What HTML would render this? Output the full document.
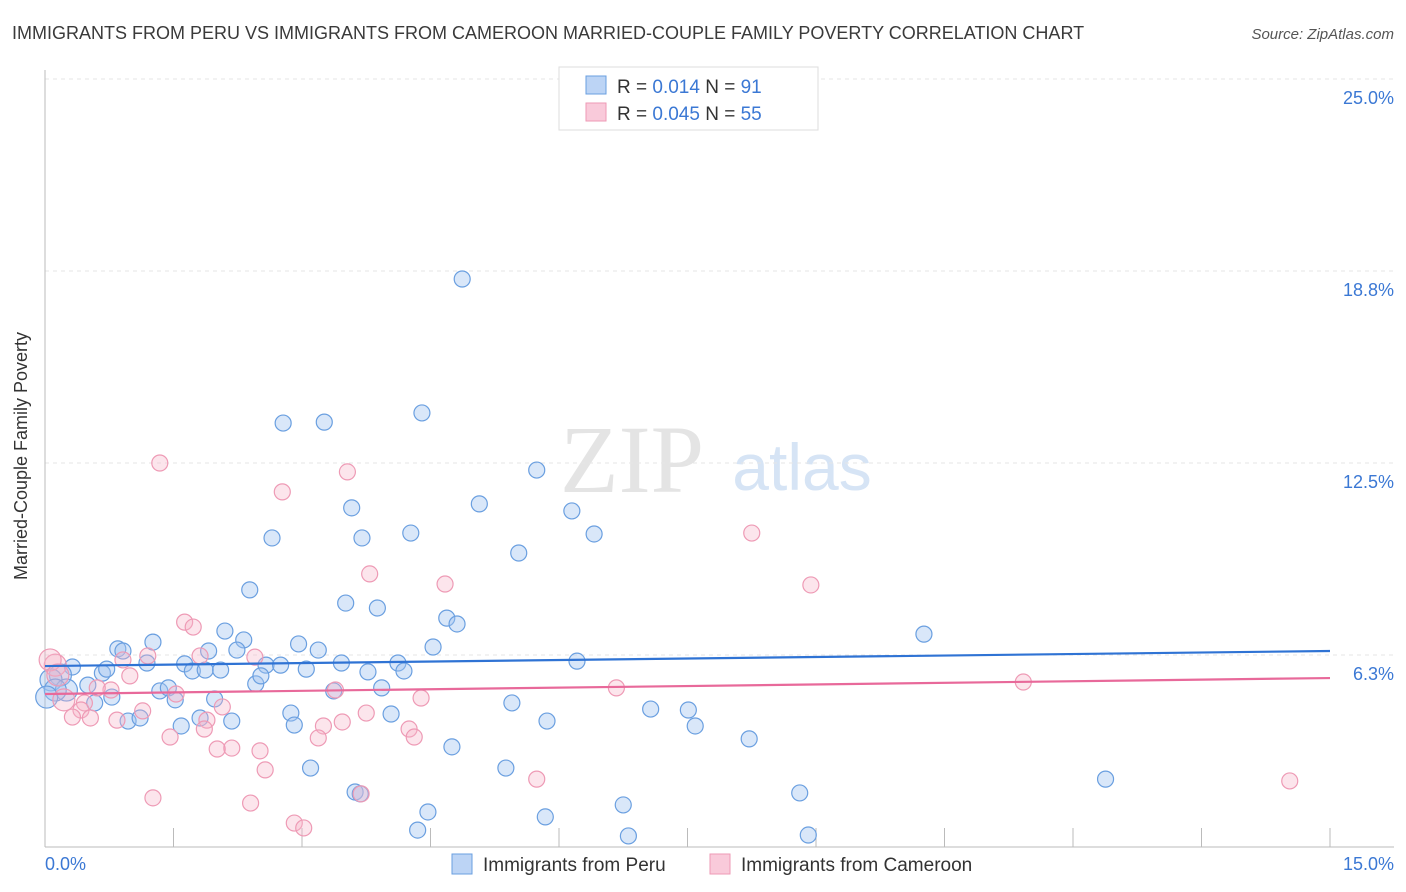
<!DOCTYPE html>
<html><head><meta charset="utf-8">
<style>
body{margin:0;background:#fff;font-family:"Liberation Sans",sans-serif;}
#wrap{position:relative;width:1406px;height:892px;overflow:hidden;}
</style></head>
<body>
<div id="wrap">
<svg id="svg" width="1406" height="892" xmlns="http://www.w3.org/2000/svg">
<text x="12" y="39" font-size="18" fill="#3a3a3a">IMMIGRANTS FROM PERU VS IMMIGRANTS FROM CAMEROON MARRIED-COUPLE FAMILY POVERTY CORRELATION CHART</text>
<text x="1394" y="39" font-size="15" fill="#555" text-anchor="end" font-style="italic">Source: ZipAtlas.com</text>
<text x="632" y="492" font-size="96" fill="#e4e4e4" font-family="Liberation Serif,serif" text-anchor="middle">ZIP</text>
<text x="802" y="490" font-size="66" fill="#d6e4f5" text-anchor="middle">atlas</text>
<g id="grid"></g><g id="pts"></g><g id="trend"></g>
<text x="27" y="456" font-size="18" fill="#333" text-anchor="middle" transform="rotate(-90 27 456)">Married-Couple Family Poverty</text>
<text x="45" y="870" font-size="18" fill="#3b78d4">0.0%</text>
<text x="1394" y="870" font-size="18" fill="#3b78d4" text-anchor="end">15.0%</text>
<g>
<rect x="559" y="67" width="259" height="63" fill="#fff" stroke="#ddd"/>
<rect x="586" y="76" width="20" height="18" fill="#bcd4f5" stroke="#6a9fe0"/>
<rect x="586" y="103" width="20" height="18" fill="#f9cada" stroke="#ee9ab5"/>
<text x="617" y="93" font-size="19" fill="#333">R = <tspan fill="#3b78d4">0.014</tspan>   N = <tspan fill="#3b78d4">91</tspan></text>
<text x="617" y="120" font-size="19" fill="#333">R = <tspan fill="#3b78d4">0.045</tspan>   N = <tspan fill="#3b78d4">55</tspan></text>
</g>
<g>
<rect x="452" y="854" width="20" height="20" fill="#bcd4f5" stroke="#6a9fe0"/>
<text x="483" y="871" font-size="19" fill="#333">Immigrants from Peru</text>
<rect x="710" y="854" width="20" height="20" fill="#f9cada" stroke="#ee9ab5"/>
<text x="741" y="871" font-size="19" fill="#333">Immigrants from Cameroon</text>
</g>
</svg></div>
<script>
const yTicks=[25,18.75,12.5,6.25];
const yTickLabels=["25.0%","18.8%","12.5%","6.3%"];
const xTicks=[0,1.5,3,4.5,6,7.5,9,10.5,12,13.5,15];
const peruX=[4.87,4.40,2.78,3.26,5.74,5.07,3.58,6.15,2.65,3.70,4.27,6.41,5.53,2.39,3.51,3.88,4.69,4.81,2.10,1.26,2.32,2.96,3.19,4.53,0.85,0.91,1.91,2.24,1.19,1.63,1.72,1.87,2.05,2.58,2.75,3.05,3.46,3.77,4.12,4.19,6.21,10.26,0.67,0.72,0.32,0.18,0.07,0.25,0.50,0.12,0.02,0.78,0.58,1.34,1.44,1.52,1.98,2.46,2.52,3.37,3.93,5.45,7.07,7.51,7.59,2.87,2.91,4.04,1.59,1.81,2.18,0.97,1.11,5.86,8.22,4.75,3.10,5.38,3.62,3.68,4.47,5.84,6.75,8.81,12.38,4.35,6.81,8.91,7.00];
const peruY=[18.49,14.13,13.80,13.83,12.27,11.17,11.04,10.94,10.06,10.06,10.22,10.19,9.57,8.37,7.94,7.78,7.45,7.26,7.03,6.67,6.74,6.61,6.41,6.51,6.45,6.38,6.38,6.41,5.99,5.96,5.73,5.76,5.76,5.92,5.92,5.79,5.99,5.70,5.99,5.73,6.05,6.93,5.66,5.79,5.86,5.60,5.44,5.11,5.27,5.11,4.88,4.88,4.69,5.08,5.18,4.79,4.82,5.31,5.57,5.08,5.18,4.69,4.49,4.46,3.94,4.36,3.97,4.33,3.94,4.20,4.10,4.10,4.20,4.10,3.52,3.26,2.57,2.57,1.79,1.73,1.14,0.98,1.37,1.76,2.21,0.55,0.36,0.39,24.48];
const camX=[1.34,3.53,2.77,8.25,3.79,4.67,8.94,1.63,1.73,1.20,0.91,1.81,2.45,0.77,0.61,0.99,1.53,2.07,3.39,4.39,6.67,11.42,0.46,0.42,0.32,0.53,0.84,1.14,1.46,1.89,1.86,2.18,2.01,2.51,2.57,3.25,3.47,3.75,3.19,4.25,4.31,5.74,1.26,2.40,2.91,3.02,3.69,14.53,0.12,0.06,0.15,0.22];
const camY=[12.50,12.21,11.56,10.22,8.89,8.56,8.53,7.32,7.16,6.22,6.09,6.22,6.18,5.11,5.18,5.57,4.98,4.56,5.11,4.85,5.18,5.37,4.69,4.46,4.23,4.20,4.13,4.43,3.58,4.13,3.84,3.22,3.19,3.13,2.51,3.94,4.07,4.36,3.55,3.84,3.58,2.21,1.60,1.43,0.78,0.62,1.73,2.15,5.92,6.09,5.60,4.79];
const peruTrend=[5.89,6.38];
const camTrend=[4.98,5.50];
const NS="http://www.w3.org/2000/svg";
const X=v=>45+v/15*1285, Y=v=>847-v/6.25*192;
function mk(t,a,p){const e=document.createElementNS(NS,t);for(const k in a)e.setAttribute(k,a[k]);p.appendChild(e);return e;}
const grid=document.getElementById('grid'),pts=document.getElementById('pts'),tr=document.getElementById('trend');
yTicks.forEach((v,i)=>{
 const l=mk('line',{x1:45,x2:1394,y1:Y(v),y2:Y(v),stroke:'#e6e6e6','stroke-dasharray':'4 4'},grid);
 
 
 const t=mk('text',{x:1394,y:Y(v)+25,'font-size':18,fill:'#3b78d4','text-anchor':'end'},grid);t.textContent=yTickLabels[i];
 
 
});
const ax=mk('line',{x1:45,x2:45,y1:70,y2:847,stroke:'#bbb'},grid);


const bx=mk('line',{x1:45,x2:1394,y1:847,y2:847,stroke:'#bbb'},grid);


xTicks.forEach(v=>{const t=mk('line',{x1:X(v),x2:X(v),y1:828,y2:847,stroke:'#bbb'},grid);
 
 });
function series(xs,ys,fill,stroke,name){xs.forEach((x,i)=>{
 const r=(x<0.3&&ys[i]>4.5&&ys[i]<6.5)?11:8;
 const c=mk('circle',{cx:X(x),cy:Y(ys[i]),r:r,fill:fill,stroke:stroke,'stroke-width':1.2},pts);
 
 });}
series(peruX,peruY,'rgba(160,196,240,0.4)','#6a9fe0','peru-point');
series(camX,camY,'rgba(245,180,200,0.35)','#ee9ab5','cameroon-point');
const l1=mk('line',{x1:X(0),x2:X(15),y1:Y(peruTrend[0]),y2:Y(peruTrend[1]),stroke:'#2f73d4','stroke-width':2.2},tr);


const l2=mk('line',{x1:X(0),x2:X(15),y1:Y(camTrend[0]),y2:Y(camTrend[1]),stroke:'#e8699a','stroke-width':2.2},tr);


</script>
</body></html>
